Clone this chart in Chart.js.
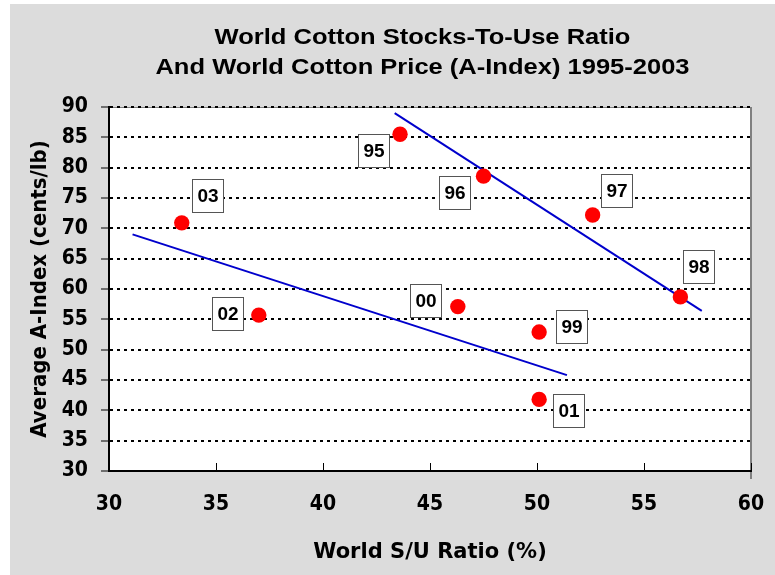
<!DOCTYPE html>
<html>
  <head>
    <title>World Cotton Stocks-To-Use Ratio</title>
    <meta charset="UTF-8" />
    <script src="https://cdn.jsdelivr.net/npm/chart.js"></script>
    <style>
      body { margin: 0; background: #fff; }
    </style>
  </head>
  <body>
    <canvas id="myChart" width="775" height="575"></canvas>

    <script>
      // marketing years, 95 = 1995/96 ...
      const years = ["95", "96", "97", "98", "99", "00", "01", "02", "03"];
      const suRatio = [43.6, 47.5, 52.6, 56.7, 50.1, 46.3, 50.1, 37.0, 33.4];
      const aIndex = [85.5, 78.6, 72.2, 58.7, 52.9, 57.1, 41.8, 55.7, 70.9];

      // trend lines (start / end)
      const trendHighX = [43.35, 57.7];
      const trendHighY = [89.0, 56.4];
      const trendLowX = [31.1, 51.4];
      const trendLowY = [69.0, 45.8];

      const xTicks = [30, 35, 40, 45, 50, 55, 60];
      const yTicks = [30, 35, 40, 45, 50, 55, 60, 65, 70, 75, 80, 85, 90];

      const titleLines = ["World Cotton Stocks-To-Use Ratio", "And World Cotton Price (A-Index) 1995-2003"];

      // where the year boxes sit relative to their point (px)
      const labelOffsets = [[-27, 16], [-29, 16], [24, -24], [18, -30], [32, -6], [-32, -6], [29, 11], [-31, -2], [26, -27]];

      const ARIAL = "'Liberation Sans', Arial, sans-serif";
      const WIDE = "'DejaVu Sans', Verdana, sans-serif";
      const COND = "'DejaVu Sans Condensed', 'DejaVu Sans', sans-serif";

      const toXY = (xs, ys) => xs.map((x, i) => ({ x: x, y: ys[i] }));

      const backdrop = {
        id: "backdrop",
        beforeDraw(chart) {
          const ctx = chart.ctx;
          const a = chart.chartArea;
          ctx.save();
          ctx.fillStyle = "#dcdcdc";
          ctx.fillRect(10, 4, chart.width - 10, chart.height - 4);
          ctx.fillStyle = "#fff";
          ctx.fillRect(a.left, a.top, a.right - a.left, a.bottom - a.top);
          ctx.strokeStyle = "#808080";
          ctx.lineWidth = 1;
          ctx.beginPath();
          ctx.moveTo(a.left, a.top + 0.5);
          ctx.lineTo(a.right, a.top + 0.5);
          ctx.stroke();
          ctx.lineWidth = 2;
          ctx.beginPath();
          ctx.moveTo(a.right, a.top);
          ctx.lineTo(a.right, a.bottom + 8);
          ctx.stroke();

          // title, a bit stretched like the original
          ctx.fillStyle = "#000";
          ctx.font = "bold 22px " + ARIAL;
          ctx.textAlign = "center";
          ctx.textBaseline = "alphabetic";
          ctx.translate(422.5, 0);
          ctx.scale(1.16, 1);
          ctx.fillText(titleLines[0], 0, 44);
          ctx.fillText(titleLines[1], 0, 74);
          ctx.restore();
        },
        afterDraw(chart) {
          const ctx = chart.ctx;
          const xs = chart.scales.x;
          const a = chart.chartArea;
          ctx.save();
          // x ticks point up into the plot
          ctx.strokeStyle = "#000";
          ctx.lineWidth = 1;
          xTicks.forEach((t) => {
            const px = Math.round(xs.getPixelForValue(t)) + 0.5;
            ctx.beginPath();
            ctx.moveTo(px, a.bottom);
            ctx.lineTo(px, a.bottom - 8);
            ctx.stroke();
          });

          // year boxes
          const meta = chart.getDatasetMeta(0);
          ctx.font = "bold 19px " + ARIAL;
          ctx.textAlign = "center";
          ctx.textBaseline = "middle";
          meta.data.forEach((pt, i) => {
            const cx = pt.x + labelOffsets[i][0];
            const cy = pt.y + labelOffsets[i][1];
            const w = 31, h = 33;
            const l = Math.round(cx - w / 2) + 0.5;
            const t = Math.round(cy - h / 2) + 0.5;
            ctx.fillStyle = "#fff";
            ctx.fillRect(l, t, w, h);
            ctx.strokeStyle = "#555";
            ctx.lineWidth = 1;
            ctx.strokeRect(l, t, w, h);
            ctx.fillStyle = "#000";
            ctx.fillText(years[i], l + w / 2, t + h / 2 + 1);
          });
          ctx.restore();
        }
      };

      const lineStyle = {
        showLine: true,
        borderColor: "#0000cc",
        borderWidth: 2,
        pointRadius: 0,
        fill: false
      };

      new Chart(document.getElementById("myChart").getContext("2d"), {
        type: "scatter",
        data: {
          datasets: [
            {
              label: "A-Index",
              data: toXY(suRatio, aIndex),
              backgroundColor: "#ff0000",
              borderWidth: 0,
              pointRadius: 7.7,
              order: 0
            },
            Object.assign({ label: "trend 95-98", data: toXY(trendHighX, trendHighY), order: 1 }, lineStyle),
            Object.assign({ label: "trend 99-03", data: toXY(trendLowX, trendLowY), order: 1 }, lineStyle)
          ]
        },
        options: {
          responsive: false,
          animation: false,
          layout: { padding: { left: 10, top: 107, right: 24, bottom: 0 } },
          plugins: {
            legend: { display: false },
            tooltip: { enabled: false }
          },
          scales: {
            x: {
              type: "linear",
              min: 30,
              max: 60,
              afterBuildTicks: (s) => { s.ticks = xTicks.map((v) => ({ value: v })); },
              afterFit: (s) => {
                s.height = 104;
                s.paddingLeft = 0;
                s.paddingRight = 0;
              },
              grid: { display: false, drawTicks: false },
              border: { display: true, color: "#000", width: 2 },
              ticks: {
                color: "#000",
                padding: 21,
                maxRotation: 0,
                font: { family: COND, size: 21, weight: "bold" }
              },
              title: {
                display: true,
                text: "World S/U Ratio (%)",
                color: "#000",
                padding: { top: 0, bottom: 10 },
                font: { family: WIDE, size: 21, weight: "bold" }
              }
            },
            y: {
              type: "linear",
              min: 30,
              max: 90,
              afterBuildTicks: (s) => { s.ticks = yTicks.map((v) => ({ value: v })); },
              afterFit: (s) => { s.width = 99; },
              grid: {
                color: "#000",
                lineWidth: 2,
                drawTicks: true,
                tickLength: 8,
                tickColor: "#000",
                tickWidth: 1,
                tickBorderDash: []
              },
              border: { display: true, color: "#000", width: 2, dash: [3, 4] },
              ticks: {
                color: "#000",
                padding: 13,
                font: { family: COND, size: 21, weight: "bold" }
              },
              title: {
                display: true,
                text: "Average A-Index (cents/lb)",
                color: "#000",
                padding: { top: 17, bottom: 0 },
                font: { family: COND, size: 22, weight: "bold" }
              }
            }
          }
        },
        plugins: [backdrop]
      });
    </script>
  </body>
</html>
